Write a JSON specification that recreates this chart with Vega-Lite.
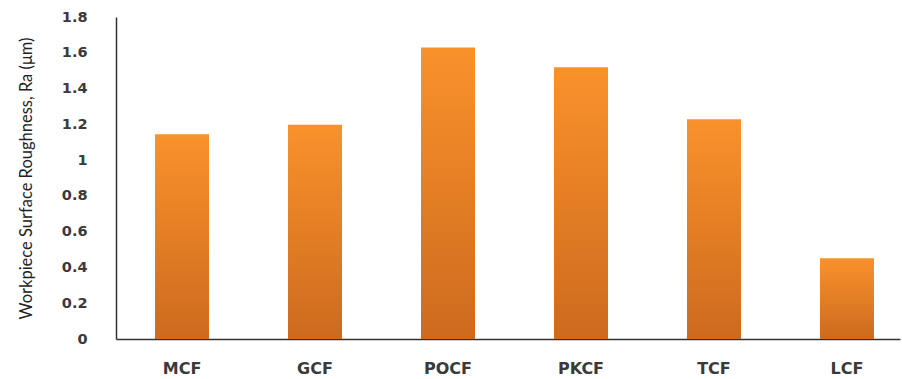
{
  "$schema": "https://vega.github.io/schema/vega-lite/v6.json",
  "autosize": {"type": "none"},
  "width": 784,
  "height": 322,
  "padding": {"left": 116, "top": 17, "right": 2, "bottom": 40},
  "background": "white",
  "config": {"view": {"stroke": null}},
  "data": {
    "values": [
      {"fluid": "MCF", "ra": 1.144},
      {"fluid": "GCF", "ra": 1.198},
      {"fluid": "POCF", "ra": 1.63},
      {"fluid": "PKCF", "ra": 1.519},
      {"fluid": "TCF", "ra": 1.228},
      {"fluid": "LCF", "ra": 0.451}
    ]
  },
  "mark": {
    "type": "bar",
    "color": {
      "gradient": "linear",
      "x1": 0, "y1": 0, "x2": 0, "y2": 1,
      "stops": [
        {"offset": 0, "color": "#F9922B"},
        {"offset": 1, "color": "#CD6A1E"}
      ]
    }
  },
  "encoding": {
    "x": {
      "field": "fluid",
      "type": "nominal",
      "sort": null,
      "scale": {"paddingInner": 0.594, "paddingOuter": 0.2445, "align": 0.6},
      "axis": {
        "title": null,
        "labelAngle": 0,
        "ticks": false,
        "domainColor": "#333333",
        "domainWidth": 1.5,
        "labelFont": "DejaVu Sans",
        "labelFontSize": 16,
        "labelFontWeight": 600,
        "labelColor": "#3a3a3a",
        "labelPadding": 21
      }
    },
    "y": {
      "field": "ra",
      "type": "quantitative",
      "scale": {"domain": [0, 1.8], "nice": false},
      "axis": {
        "title": "Workpiece Surface Roughness, Ra (μm)",
        "titleFont": "Lato",
        "titleFontSize": 16.5,
        "titleFontWeight": "normal",
        "titleColor": "#222222",
        "titlePadding": 27,
        "values": [0, 0.2, 0.4, 0.6, 0.8, 1, 1.2, 1.4, 1.6, 1.8],
        "format": ".1~f",
        "grid": false,
        "ticks": false,
        "domainColor": "#333333",
        "domainWidth": 1.5,
        "labelFont": "DejaVu Sans",
        "labelFontSize": 14.5,
        "labelFontWeight": 600,
        "labelColor": "#3a3a3a",
        "labelPadding": 29
      }
    }
  }
}
